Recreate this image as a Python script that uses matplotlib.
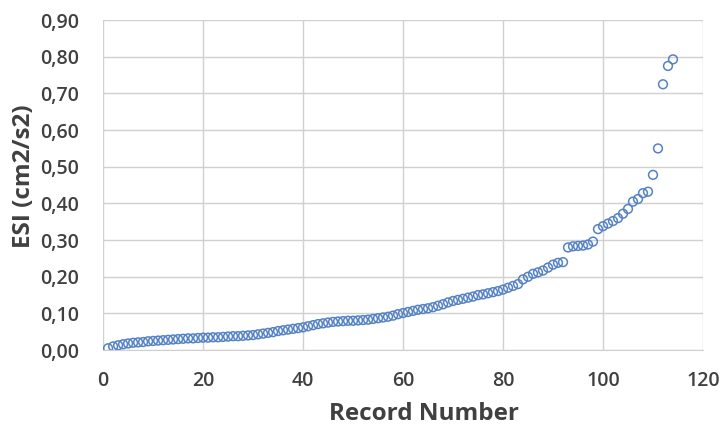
import matplotlib
matplotlib.use("Agg")
from matplotlib import pyplot as plt
from matplotlib.ticker import FuncFormatter, MultipleLocator

# ESI value per record, sorted ascending
record = list(range(1, 115))
esi = [0.005, 0.010, 0.013, 0.016, 0.018, 0.020, 0.021, 0.022, 0.024, 0.025,
       0.026, 0.027, 0.028, 0.029, 0.030, 0.031, 0.032, 0.032, 0.033, 0.034,
       0.034, 0.035, 0.035, 0.036, 0.037, 0.038, 0.038, 0.039, 0.040, 0.041,
       0.043, 0.045, 0.047, 0.049, 0.052, 0.054, 0.056, 0.058, 0.060, 0.062,
       0.065, 0.068, 0.071, 0.073, 0.075, 0.077, 0.078, 0.079, 0.080, 0.080,
       0.081, 0.082, 0.083, 0.085, 0.087, 0.089, 0.091, 0.094, 0.098, 0.101,
       0.104, 0.107, 0.110, 0.112, 0.114, 0.117, 0.121, 0.125, 0.130, 0.134,
       0.137, 0.140, 0.143, 0.146, 0.150, 0.152, 0.155, 0.158, 0.161, 0.165,
       0.170, 0.175, 0.180, 0.193, 0.200, 0.208, 0.212, 0.217, 0.225, 0.233,
       0.238, 0.240, 0.280, 0.283, 0.284, 0.285, 0.288, 0.296, 0.330, 0.338,
       0.345, 0.352, 0.360, 0.372, 0.385, 0.405, 0.412, 0.428, 0.432, 0.478,
       0.550, 0.725, 0.775, 0.793]

x_ticks = [0, 20, 40, 60, 80, 100, 120]

plt.rcParams['font.family'] = ['Open Sans', 'DejaVu Sans']

fig = plt.figure(figsize=(7.21, 4.28), dpi=100)
ax = fig.add_axes([0.143, 0.182, 0.832, 0.771])

ax.scatter(record, esi, s=40, facecolors='none', edgecolors='#5582c4',
           linewidths=1.1, zorder=3)

ax.set_xlim(0, 120)
ax.set_ylim(0, 0.9)
ax.set_xticks(x_ticks)
ax.yaxis.set_major_locator(MultipleLocator(0.1))
ax.yaxis.set_major_formatter(FuncFormatter(lambda v, p: f"{v:.2f}".replace('.', ',')))

ax.grid(True, color='#d0d0d0', linewidth=1.0, zorder=0)
for side in ['top', 'right', 'left']:
    ax.spines[side].set_visible(False)
ax.spines['bottom'].set_color('#d0d0d0')
ax.tick_params(axis='y', length=0, labelsize=14, labelcolor='#404040', pad=17)
ax.tick_params(axis='x', length=0, labelsize=14, labelcolor='#404040', pad=15)
for lab in ax.get_xticklabels() + ax.get_yticklabels():
    lab.set_fontweight('semibold')

ax.set_xlabel('Record Number', fontsize=17.5, fontweight='bold', color='#404040')
ax.set_ylabel('ESI (cm2/s2)', fontsize=17.5, fontweight='bold', color='#404040')
ax.xaxis.set_label_coords(0.535, -0.158)
ax.yaxis.set_label_coords(-0.112, 0.527)

fig.savefig('out.png', dpi=100, facecolor='white')
